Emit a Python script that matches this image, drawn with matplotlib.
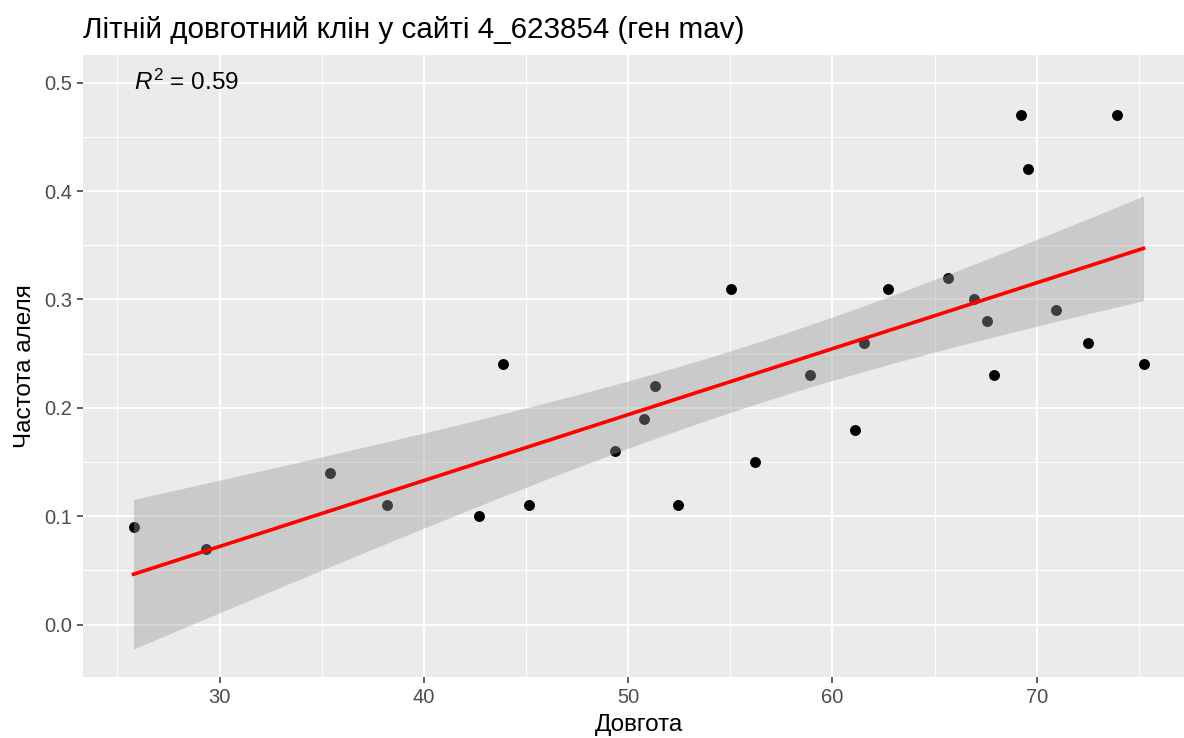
import numpy as np
import matplotlib
matplotlib.use("Agg")
import matplotlib.pyplot as plt
from matplotlib.ticker import MultipleLocator

longitude = [25.79, 29.36, 35.43, 38.22, 42.71, 43.89, 45.13, 49.36, 50.78, 51.32,
             52.44, 55.04, 56.21, 58.90, 61.10, 61.54, 62.71, 65.65, 66.92, 67.56,
             67.90, 69.24, 69.56, 70.93, 72.49, 73.91, 75.23]
allele_freq = [0.09, 0.07, 0.14, 0.11, 0.10, 0.24, 0.11, 0.16, 0.19, 0.22,
               0.11, 0.31, 0.15, 0.23, 0.18, 0.26, 0.31, 0.32, 0.30, 0.28,
               0.23, 0.47, 0.42, 0.29, 0.26, 0.47, 0.24]
title = "Літній довготний клін у сайті 4_623854 (ген mav)"
xlabel = "Довгота"
ylabel = "Частота алеля"
r2_text = "$R^2$ = 0.59"
x_ticks = [30, 40, 50, 60, 70]
y_ticks = [0.0, 0.1, 0.2, 0.3, 0.4, 0.5]

plt.rcParams['font.family'] = ['Liberation Sans', 'DejaVu Sans']
plt.rcParams['mathtext.fontset'] = 'custom'
plt.rcParams['mathtext.it'] = 'Liberation Sans:italic'
plt.rcParams['mathtext.rm'] = 'Liberation Sans'

x = np.array(longitude)
y = np.array(allele_freq)
n = len(x)
slope, intercept = np.polyfit(x, y, 1)
resid = y - (slope * x + intercept)
s = np.sqrt(np.sum(resid ** 2) / (n - 2))
xbar = x.mean()
sxx = np.sum((x - xbar) ** 2)
t_crit = 2.0595  # t(0.975, df=25)
xs = np.linspace(x.min(), x.max(), 80)
ys = slope * xs + intercept
se = s * np.sqrt(1 / n + (xs - xbar) ** 2 / sxx)

W, H = 1184, 738
fig = plt.figure(figsize=(W / 100, H / 100), dpi=100)
left, right, top, bottom = 83, 1194, 55, 677
ax = fig.add_axes([left / W, 1 - bottom / H, (right - left) / W, (bottom - top) / H])
ax.set_facecolor('#EBEBEB')
for sp in ax.spines.values():
    sp.set_visible(False)

ax.scatter(x, y, s=62, color='black', zorder=3, linewidths=0)
ax.fill_between(xs, ys - t_crit * se, ys + t_crit * se, color='#999999', alpha=0.4,
                linewidth=0, zorder=4)
ax.plot(xs, ys, color='red', lw=2.6, zorder=5)
ax.text(x.min(), 0.5, r2_text, ha='left', va='center', fontsize=17.5, color='black', zorder=6)

xr = x.max() - x.min()
ax.set_xlim(x.min() - 0.05 * xr, x.max() + 0.05 * xr)
ax.set_ylim(-0.0484, 0.5256)
ax.set_xticks(x_ticks)
ax.set_yticks(y_ticks)
ax.set_yticklabels([f"{v:.1f}" for v in y_ticks])
ax.xaxis.set_minor_locator(MultipleLocator(5))
ax.yaxis.set_minor_locator(MultipleLocator(0.05))
ax.grid(which='major', color='white', lw=1.4, zorder=0)
ax.grid(which='minor', color='white', lw=0.7, zorder=0)
ax.set_axisbelow(True)
ax.tick_params(which='major', length=4, width=1.1, color='#333333', labelcolor='#4D4D4D',
               labelsize=14.5, pad=4)
ax.tick_params(which='minor', length=0)
ax.set_xlabel(xlabel, fontsize=17.5, color='black', labelpad=5)
ax.set_ylabel(ylabel, fontsize=17.5, color='black', labelpad=6)
fig.text(83 / W, 1 - 30 / H, title, fontsize=21.3, ha='left', va='center', color='black')

fig.savefig('out.png', dpi=100)
